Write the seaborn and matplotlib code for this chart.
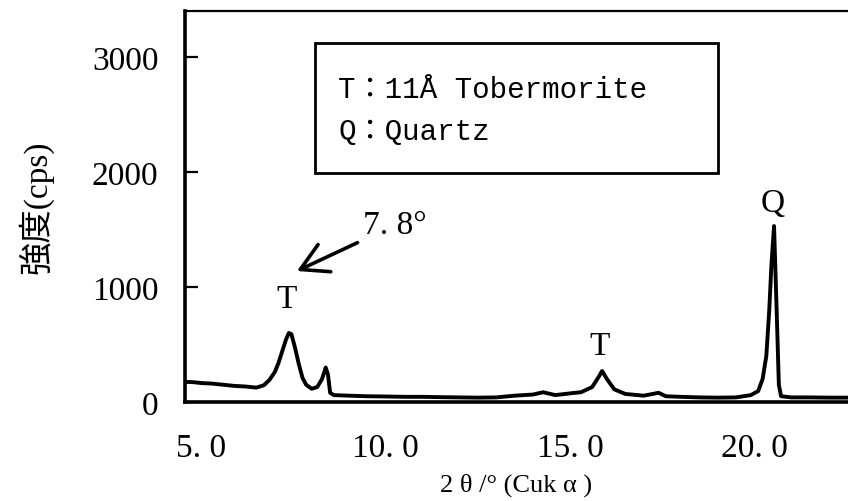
import matplotlib
matplotlib.use("Agg")
import matplotlib.pyplot as plt
import seaborn as sns
import pandas as pd

# ---- data ----
two_theta = [4.60, 4.80, 5.00, 5.30, 5.60, 5.90, 6.20, 6.50, 6.70, 6.85, 7.00, 7.10,
             7.20, 7.30, 7.38, 7.45, 7.55, 7.65, 7.75, 7.85, 8.00, 8.15, 8.28, 8.38,
             8.44, 8.50, 8.60, 9.00, 9.50, 10.00, 10.50, 11.00, 11.50, 12.00, 12.50,
             13.00, 13.50, 14.00, 14.27, 14.60, 15.00, 15.30, 15.60, 15.78, 15.87,
             16.00, 16.20, 16.50, 17.00, 17.40, 17.60, 18.00, 18.50, 19.00, 19.50,
             19.90, 20.10, 20.22, 20.32, 20.40, 20.46, 20.53, 20.60, 20.66, 20.72,
             21.00, 21.50, 22.00, 22.60]
intensity = [175, 172, 165, 160, 150, 140, 135, 125, 145, 190, 260, 340,
             440, 540, 600, 590, 470, 330, 210, 150, 115, 130, 200, 300,
             240, 80, 60, 55, 50, 48, 45, 45, 42, 40, 38,
             40, 55, 65, 85, 60, 75, 85, 130, 220, 270,
             200, 110, 70, 55, 80, 50, 45, 40, 38, 40,
             60, 95, 200, 400, 800, 1200, 1530, 800, 150, 50,
             40, 40, 38, 38]

x_ticks = [5.0, 10.0, 15.0, 20.0]
x_tick_labels = ["5. 0", "10. 0", "15. 0", "20. 0"]
y_ticks = [0, 1000, 2000, 3000]
y_tick_labels = ["0", "1000", "2000", "3000"]

peak_labels = ["T", "T", "Q"]
peak_label_x = [7.33, 15.81, 20.50]
peak_label_y = [900, 490, 1730]

legend_lines = ["T：11Å Tobermorite", "Q：Quartz"]

df = pd.DataFrame({"two_theta": two_theta, "intensity": intensity})

sns.set_theme(style="white")
plt.rcParams["font.family"] = ["Liberation Serif", "Noto Sans CJK JP", "DejaVu Sans"]

W, H = 848, 502
fig = plt.figure(figsize=(W / 100, H / 100), dpi=100)
left_px, right_px, top_px, bot_px = 185, 848, 12, 403
ax = fig.add_axes([left_px / W, 1 - bot_px / H, (right_px - left_px) / W, (bot_px - top_px) / H])

sns.lineplot(data=df, x="two_theta", y="intensity", color="black", linewidth=2.8,
             sort=False, ax=ax)

px_per_deg = 36.9
ax.set_xlim(5 + (left_px - 201) / px_per_deg, 5 + (right_px - 201) / px_per_deg)
ax.set_ylim(0, (bot_px - top_px) / 0.115)

ax.set_xticks(x_ticks, labels=x_tick_labels)
ax.set_yticks(y_ticks, labels=y_tick_labels)
ax.tick_params(axis="x", length=0, pad=22, labelsize=24, colors="black")
ax.tick_params(axis="y", direction="in", length=9, width=1.6, pad=19, labelsize=24,
               colors="black", left=True)

for s in ["left", "bottom"]:
    ax.spines[s].set_linewidth(2.6)
    ax.spines[s].set_color("black")
ax.spines["top"].set_linewidth(1.6)
ax.spines["top"].set_color("black")
ax.spines["right"].set_visible(False)

ax.set_xlabel("2 θ /° (Cuk α )", fontsize=19, labelpad=7, color="black")
ax.set_ylabel("強度(cps)", fontsize=24, labelpad=28, color="black")

for lab, lx, ly in zip(peak_labels, peak_label_x, peak_label_y):
    ax.text(lx, ly, lab, ha="center", va="center", fontsize=24, color="black")

ax.annotate("7. 8°", xy=(7.60, 1139), xytext=(9.40, 1539),
            ha="left", va="center", fontsize=24, color="black",
            arrowprops=dict(arrowstyle="->,head_length=0.8,head_width=0.45",
                            lw=2.6, color="black", shrinkA=2, shrinkB=0))

# legend-like box
box = plt.Rectangle((315 / W, 1 - 174 / H), (718 - 315) / W, (174 - 44) / H,
                    transform=fig.transFigure, fill=False, lw=2.0, ec="black")
fig.add_artist(box)
for txt, ypx in zip(legend_lines, [90, 132]):
    fig.text(338 / W, 1 - ypx / H, txt, ha="left", va="center", fontsize=21,
             family=["Liberation Mono", "Noto Sans CJK JP"], color="black")

fig.savefig("out.png", dpi=100)
